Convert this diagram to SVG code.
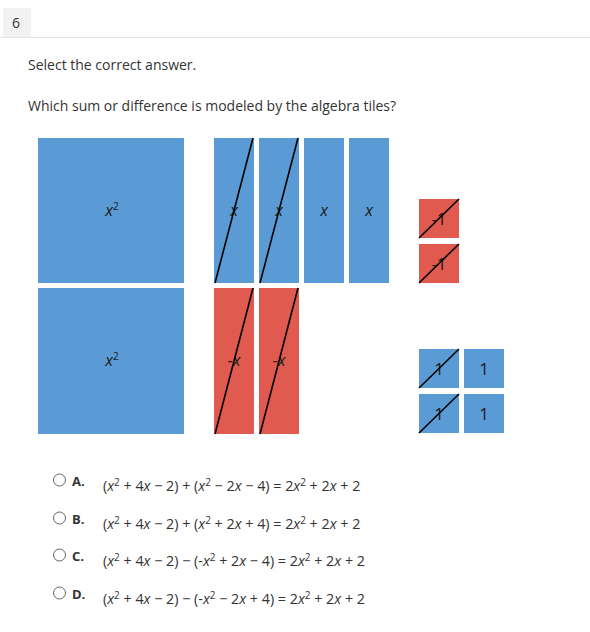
<svg xmlns="http://www.w3.org/2000/svg" width="590" height="632" viewBox="0 0 590 632">
<style>
.t{font-family:"Open Sans","Liberation Sans",sans-serif;fill:#333;font-size:14px}
.b{fill:#5B9BD5}
.r{fill:#E05A4F}
.lbl{font-family:"Open Sans","Liberation Sans",sans-serif;fill:#1a1a1a;font-size:16px;text-anchor:middle}
.one{font-family:"Open Sans","Liberation Sans",sans-serif;fill:#1a1a1a;font-size:17px;text-anchor:middle}
.d{stroke:#000;stroke-width:1.6;fill:none}
.ex{font-family:"Open Sans","Liberation Sans",sans-serif;fill:#333;font-size:14.3px}
.lt{font-family:"Open Sans","Liberation Sans",sans-serif;fill:#333;font-size:13px;font-weight:bold}
.rad{fill:#fff;stroke:#666;stroke-width:1}
.i{font-style:italic}
.s{font-size:10px}
</style>
<rect width="590" height="632" fill="#fff"/>
<rect x="3" y="8" width="28" height="29" fill="#f2f2f2"/>
<line x1="0" y1="37.5" x2="590" y2="37.5" stroke="#e3e3e3" stroke-width="1"/>
<text class="t" x="12" y="28">6</text>
<text class="t" x="28" y="70">Select the correct answer.</text>
<text class="t" x="28" y="111">Which sum or difference is modeled by the algebra tiles?</text>

<g id="x2-top"><rect class="b" x="38" y="138" width="146" height="145"/><text class="lbl" x="112" y="216"><tspan class="i">x</tspan><tspan class="s" dy="-6">2</tspan></text></g>
<g id="x2-bottom"><rect class="b" x="38" y="288" width="146" height="146"/><text class="lbl" x="112" y="366"><tspan class="i">x</tspan><tspan class="s" dy="-6">2</tspan></text></g>

<g id="x1"><rect class="b" x="214" y="138" width="40" height="145"/><text class="lbl i" x="234" y="216">x</text><line class="d" x1="215" y1="283" x2="253" y2="138"/></g>
<g id="x2"><rect class="b" x="259" y="138" width="40" height="145"/><text class="lbl i" x="279" y="216">x</text><line class="d" x1="260" y1="283" x2="298" y2="138"/></g>
<g id="x3"><rect class="b" x="304" y="138" width="40" height="145"/><text class="lbl i" x="324" y="216">x</text></g>
<g id="x4"><rect class="b" x="349" y="138" width="40" height="145"/><text class="lbl i" x="369" y="216">x</text></g>

<g id="nx1"><rect class="r" x="214" y="288" width="40" height="146"/><text class="lbl" x="234" y="366">-<tspan class="i">x</tspan></text><line class="d" x1="215" y1="434" x2="253" y2="288"/></g>
<g id="nx2"><rect class="r" x="259" y="288" width="40" height="146"/><text class="lbl" x="279" y="366">-<tspan class="i">x</tspan></text><line class="d" x1="260" y1="434" x2="298" y2="288"/></g>

<g id="n1a"><rect class="r" x="419" y="199" width="40" height="39"/><text class="one" x="439" y="225">-1</text><line class="d" x1="419" y1="238" x2="459" y2="199"/></g>
<g id="n1b"><rect class="r" x="419" y="244" width="40" height="39"/><text class="one" x="439" y="270">-1</text><line class="d" x1="419" y1="283" x2="459" y2="244"/></g>

<g id="p1a"><rect class="b" x="419" y="349" width="40" height="39"/><text class="one" x="439" y="375">1</text><line class="d" x1="419" y1="388" x2="459" y2="349"/></g>
<g id="p1b"><rect class="b" x="464" y="349" width="40" height="39"/><text class="one" x="484" y="375">1</text></g>
<g id="p1c"><rect class="b" x="419" y="394" width="40" height="39"/><text class="one" x="439" y="420">1</text><line class="d" x1="419" y1="433" x2="459" y2="394"/></g>
<g id="p1d"><rect class="b" x="464" y="394" width="40" height="39"/><text class="one" x="484" y="420">1</text></g>

<g id="optA"><circle class="rad" cx="59.5" cy="480" r="6"/><text class="lt" x="72" y="486">A.</text>
<text class="ex" x="103" y="491">(<tspan class="i">x</tspan><tspan class="s" dy="-5">2</tspan><tspan dy="5"> + 4</tspan><tspan class="i">x</tspan> − 2) + (<tspan class="i">x</tspan><tspan class="s" dy="-5">2</tspan><tspan dy="5"> − 2</tspan><tspan class="i">x</tspan> − 4) = 2<tspan class="i">x</tspan><tspan class="s" dy="-5">2</tspan><tspan dy="5"> + 2</tspan><tspan class="i">x</tspan> + 2</text></g>
<g id="optB"><circle class="rad" cx="59.5" cy="518" r="6"/><text class="lt" x="72" y="524">B.</text>
<text class="ex" x="103" y="529">(<tspan class="i">x</tspan><tspan class="s" dy="-5">2</tspan><tspan dy="5"> + 4</tspan><tspan class="i">x</tspan> − 2) + (<tspan class="i">x</tspan><tspan class="s" dy="-5">2</tspan><tspan dy="5"> + 2</tspan><tspan class="i">x</tspan> + 4) = 2<tspan class="i">x</tspan><tspan class="s" dy="-5">2</tspan><tspan dy="5"> + 2</tspan><tspan class="i">x</tspan> + 2</text></g>
<g id="optC"><circle class="rad" cx="59.5" cy="555" r="6"/><text class="lt" x="72" y="561">C.</text>
<text class="ex" x="103" y="566">(<tspan class="i">x</tspan><tspan class="s" dy="-5">2</tspan><tspan dy="5"> + 4</tspan><tspan class="i">x</tspan> − 2) − (-<tspan class="i">x</tspan><tspan class="s" dy="-5">2</tspan><tspan dy="5"> + 2</tspan><tspan class="i">x</tspan> − 4) = 2<tspan class="i">x</tspan><tspan class="s" dy="-5">2</tspan><tspan dy="5"> + 2</tspan><tspan class="i">x</tspan> + 2</text></g>
<g id="optD"><circle class="rad" cx="59.5" cy="593" r="6"/><text class="lt" x="72" y="599">D.</text>
<text class="ex" x="103" y="604">(<tspan class="i">x</tspan><tspan class="s" dy="-5">2</tspan><tspan dy="5"> + 4</tspan><tspan class="i">x</tspan> − 2) − (-<tspan class="i">x</tspan><tspan class="s" dy="-5">2</tspan><tspan dy="5"> − 2</tspan><tspan class="i">x</tspan> + 4) = 2<tspan class="i">x</tspan><tspan class="s" dy="-5">2</tspan><tspan dy="5"> + 2</tspan><tspan class="i">x</tspan> + 2</text></g>
</svg>
